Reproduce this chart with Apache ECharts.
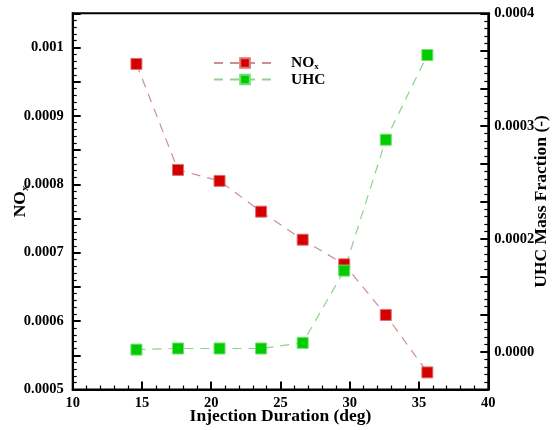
<!DOCTYPE html>
<html>
<head>
<meta charset="utf-8">
<script src="https://cdn.jsdelivr.net/npm/echarts@6/dist/echarts.min.js"></script>
<style>
html,body{margin:0;padding:0;background:#fff;}
#chart{width:552px;height:430px;}
</style>
</head>
<body>
<div id="chart"></div>
<script>
// ---- data ----
const injectionDuration = [14.6, 17.6, 20.6, 23.6, 26.6, 29.6, 32.6, 35.6];
const noxValues = [0.000976, 0.000821, 0.000805, 0.000760, 0.000719, 0.000683, 0.000609, 0.000525];
const uhcValues = [0.000102, 0.000103, 0.000103, 0.000103, 0.000108, 0.000172, 0.000288, 0.000363];
const xTickValues = [10, 15, 20, 25, 30, 35, 40];
const noxTickValues = [0.0005, 0.0006, 0.0007, 0.0008, 0.0009, 0.001];
const noxTickLabels = ["0.0005", "0.0006", "0.0007", "0.0008", "0.0009", "0.001"];
const uhcTickValues = [0.0001, 0.0002, 0.0003, 0.0004];
const uhcTickLabels = ["0.0000", "0.0002", "0.0003", "0.0004"];

function labelFor(v, vals, labels, tol) {
  for (let i = 0; i < vals.length; i++) {
    if (Math.abs(v - vals[i]) < tol) return labels[i];
  }
  return '';
}

const FONT = '"Liberation Serif", "DejaVu Serif", serif';
const uhcStep = 0.0001 / 3;

const chart = echarts.init(document.getElementById('chart'), null, {renderer: 'canvas'});
const axisLine = {show: true, lineStyle: {color: '#000', width: 2}};
const axisTick = {show: true, inside: true, length: 8, lineStyle: {color: '#000', width: 2}};
const minorTick = {show: true, splitNumber: 5, length: 4, lineStyle: {color: '#000', width: 1.2}};
const labelStyle = {color: '#000', fontFamily: FONT, fontWeight: 'bold', fontSize: 14.5};

const option = {
  animation: false,
  backgroundColor: '#fff',
  grid: {left: 72.7, right: 63.7, top: 13.3, bottom: 40.5, show: true, borderColor: '#000', borderWidth: 2,
         containLabel: false, outerBoundsMode: 'none'},
  legend: {
    orient: 'vertical',
    left: 213, top: 55, padding: 0,
    itemWidth: 62, itemHeight: 12, itemGap: 0,
    textStyle: {
      color: '#000', fontFamily: FONT, fontWeight: 'bold', fontSize: 15.5, padding: [0, 0, 0, 10],
      rich: {
        m: {fontFamily: FONT, fontWeight: 'bold', fontSize: 15.5, color: '#000'},
        s: {fontFamily: FONT, fontWeight: 'bold', fontSize: 9, color: '#000', verticalAlign: 'bottom', padding: [8, 0, 0, 0]}
      }
    },
    formatter: function (name) {
      return name === 'NOx' ? '{m|NO}{s|x}' : '{m|' + name + '}';
    },
    data: ['NOx', 'UHC']
  },
  xAxis: {
    type: 'value', min: 10, max: 40, interval: 5,
    axisLine: axisLine, axisTick: axisTick, minorTick: minorTick,
    splitLine: {show: false},
    axisLabel: Object.assign({margin: 6, formatter: v => labelFor(v, xTickValues, xTickValues.map(String), 1e-6)}, labelStyle),
    name: 'Injection Duration (deg)', nameLocation: 'middle', nameGap: 18, nameMoveOverlap: false,
    nameTextStyle: {color: '#000', fontFamily: FONT, fontWeight: 'bold', fontSize: 17.5}
  },
  yAxis: [
    {
      type: 'value', min: 0.0005, max: 0.00105, interval: 0.00005,
      axisLine: axisLine, axisTick: axisTick, minorTick: minorTick,
      splitLine: {show: false},
      axisLabel: Object.assign({margin: 9, showMaxLabel: true, formatter: v => labelFor(v, noxTickValues, noxTickLabels, 1e-8)}, labelStyle),
      name: '{m|NO}{s|x}', nameLocation: 'middle', nameGap: 42, nameRotate: 90, nameMoveOverlap: false,
      nameTextStyle: {
        padding: [0, 0, 0, 0],
        rich: {
          m: {fontFamily: FONT, fontWeight: 'bold', fontSize: 17.5, color: '#000'},
          s: {fontFamily: FONT, fontWeight: 'bold', fontSize: 11, color: '#000', verticalAlign: 'bottom', padding: [10, 0, 0, 0]}
        }
      }
    },
    {
      type: 'value', position: 'right', min: 2 * uhcStep, max: 0.0004, interval: uhcStep,
      axisLine: axisLine, axisTick: axisTick, minorTick: minorTick,
      splitLine: {show: false},
      axisLabel: Object.assign({margin: 6, showMaxLabel: true, formatter: v => labelFor(v, uhcTickValues, uhcTickLabels, 1e-7)}, labelStyle),
      name: 'UHC Mass Fraction (-)', nameLocation: 'middle', nameGap: 44, nameRotate: 90, nameMoveOverlap: false,
      nameTextStyle: {color: '#000', fontFamily: FONT, fontWeight: 'bold', fontSize: 17.5}
    }
  ],
  series: [
    {
      name: 'NOx', type: 'line', yAxisIndex: 0,
      data: injectionDuration.map((x, i) => [x, noxValues[i]]),
      symbol: 'rect', symbolSize: 11,
      itemStyle: {color: '#d40000', borderColor: '#e07070', borderWidth: 1},
      lineStyle: {color: '#c89090', width: 1.2, type: [9, 7]}
    },
    {
      name: 'UHC', type: 'line', yAxisIndex: 1,
      data: injectionDuration.map((x, i) => [x, uhcValues[i]]),
      symbol: 'rect', symbolSize: 11,
      itemStyle: {color: '#00cc00', borderColor: '#70e070', borderWidth: 1},
      lineStyle: {color: '#8fd08f', width: 1.2, type: [9, 7]}
    }
  ]
};
chart.setOption(option);
</script>
</body>
</html>
